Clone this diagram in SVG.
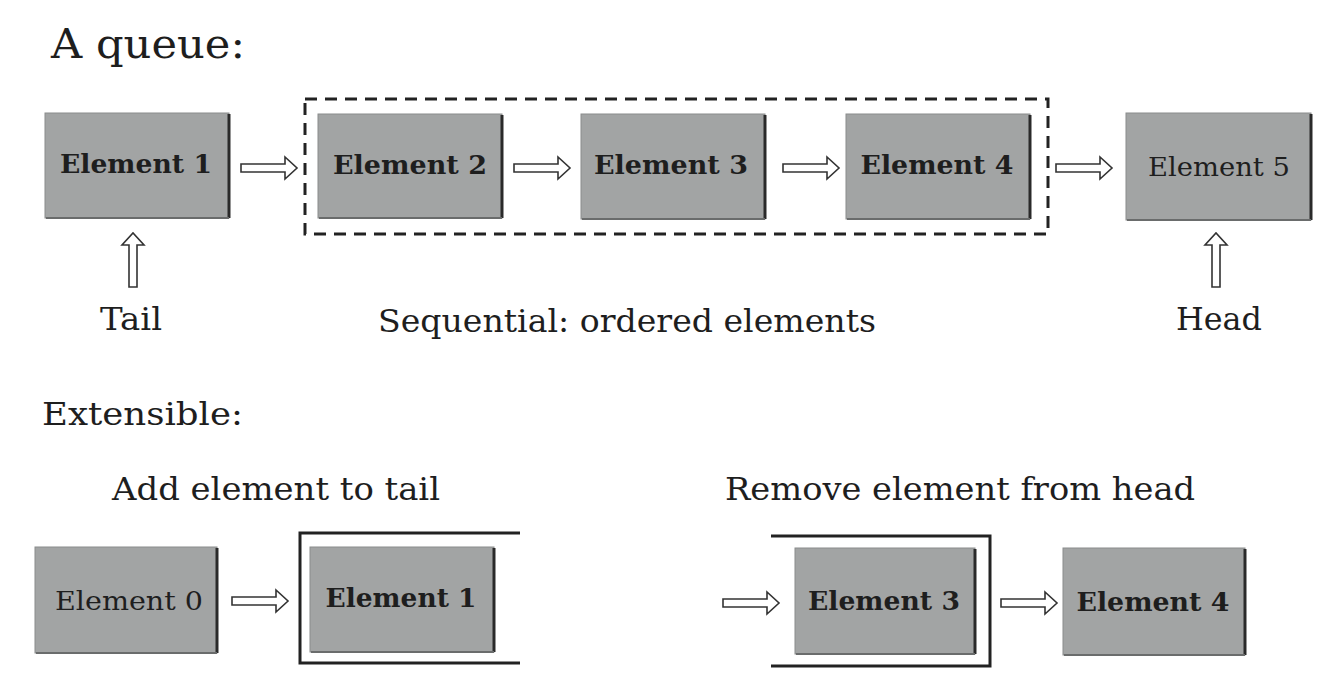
<svg xmlns="http://www.w3.org/2000/svg" width="1344" height="689" viewBox="0 0 1344 689">
<style>
text{font-family:"DejaVu Serif","Liberation Serif",serif;fill:#1e1e1e}
.lbl{font-size:26px;font-weight:bold;text-anchor:middle}
.cap{font-size:32px;text-anchor:middle}
.box{fill:#a2a4a4;stroke:#8a8c8c;stroke-width:1}
.sh{fill:none;stroke:#2a2a2a;stroke-width:3}
.shb{fill:none;stroke:#6a6c6c;stroke-width:2}
.arr{fill:#fff;stroke:#333;stroke-width:1.6;stroke-linejoin:miter}
.br{fill:none;stroke:#222;stroke-width:3}
</style>
<defs>
<path id="ah" class="arr" d="M0,-4 H44 V-11 L56,0 L44,11 V4 H0 Z"/>
<path id="av" class="arr" d="M-4,0 V-42 H-11 L0,-54 L11,-42 H4 V0 Z"/>
</defs>
<rect width="1344" height="689" fill="#fff"/>
<text x="51" y="58" style="font-size:41px;font-weight:500" textLength="194" lengthAdjust="spacingAndGlyphs">A queue:</text>

<g id="e1"><rect class="box" x="45" y="113" width="184" height="105"/><path class="sh" d="M229,114 V218"/><path class="shb" d="M46,218 H229"/><text class="lbl" x="136" y="173" textLength="152" lengthAdjust="spacingAndGlyphs">Element 1</text></g>
<g id="e2"><rect class="box" x="318" y="114" width="184" height="104"/><path class="sh" d="M502,115 V218"/><path class="shb" d="M319,218 H502"/><text class="lbl" x="410" y="174" textLength="154" lengthAdjust="spacingAndGlyphs">Element 2</text></g>
<g id="e3"><rect class="box" x="581" y="114" width="184" height="105"/><path class="sh" d="M765,115 V219"/><path class="shb" d="M582,219 H765"/><text class="lbl" x="671" y="174" textLength="154" lengthAdjust="spacingAndGlyphs">Element 3</text></g>
<g id="e4"><rect class="box" x="846" y="114" width="184" height="105"/><path class="sh" d="M1030,115 V219"/><path class="shb" d="M847,219 H1030"/><text class="lbl" x="937" y="174" textLength="153" lengthAdjust="spacingAndGlyphs">Element 4</text></g>
<g id="e5"><rect class="box" x="1126" y="113" width="185" height="107"/><path class="sh" d="M1311,114 V220"/><path class="shb" d="M1127,220 H1311"/><text class="lbl" x="1219" y="176" style="font-weight:normal" textLength="142" lengthAdjust="spacingAndGlyphs">Element 5</text></g>

<g id="seq"><rect x="305" y="99" width="743" height="135" fill="none" stroke="#222" stroke-width="3" stroke-dasharray="12,8"/></g>

<g id="connectors">
<use href="#ah" x="241" y="168"/>
<use href="#ah" x="514" y="168"/>
<use href="#ah" x="783" y="168"/>
<use href="#ah" x="1056" y="168"/>
<use href="#av" x="133" y="287"/>
<use href="#av" x="1216" y="287"/>
<use href="#ah" x="232" y="601"/>
<use href="#ah" x="723" y="603"/>
<use href="#ah" x="1001" y="603"/>
</g>

<text class="cap" x="131" y="330" textLength="62" lengthAdjust="spacingAndGlyphs">Tail</text>
<text class="cap" x="627" y="332" textLength="498" lengthAdjust="spacingAndGlyphs">Sequential: ordered elements</text>
<text class="cap" x="1219" y="330" textLength="86" lengthAdjust="spacingAndGlyphs">Head</text>
<text x="42" y="425" style="font-size:31px" textLength="201" lengthAdjust="spacingAndGlyphs">Extensible:</text>
<text class="cap" x="276" y="500" textLength="328" lengthAdjust="spacingAndGlyphs">Add element to tail</text>
<text class="cap" x="960" y="500" textLength="470" lengthAdjust="spacingAndGlyphs">Remove element from head</text>

<g id="b0"><rect class="box" x="35" y="547" width="182" height="106"/><path class="sh" d="M217,548 V653"/><path class="shb" d="M36,653 H217"/><text class="lbl" x="129" y="610" style="font-weight:normal" textLength="148" lengthAdjust="spacingAndGlyphs">Element 0</text></g>
<g id="b1"><rect class="box" x="310" y="547" width="184" height="105"/><path class="sh" d="M494,548 V652"/><path class="shb" d="M311,652 H494"/><text class="lbl" x="401" y="607" textLength="151" lengthAdjust="spacingAndGlyphs">Element 1</text></g>
<g id="tailbracket"><path class="br" d="M520,533 H300 V663 H520"/></g>
<g id="b3"><rect class="box" x="795" y="548" width="180" height="106"/><path class="sh" d="M975,549 V654"/><path class="shb" d="M796,654 H975"/><text class="lbl" x="884" y="610" textLength="152" lengthAdjust="spacingAndGlyphs">Element 3</text></g>
<g id="headbracket"><path class="br" d="M771,536 H990 V666 H771"/></g>
<g id="b4"><rect class="box" x="1063" y="548" width="182" height="107"/><path class="sh" d="M1245,549 V655"/><path class="shb" d="M1064,655 H1245"/><text class="lbl" x="1153" y="611" textLength="153" lengthAdjust="spacingAndGlyphs">Element 4</text></g>
</svg>
